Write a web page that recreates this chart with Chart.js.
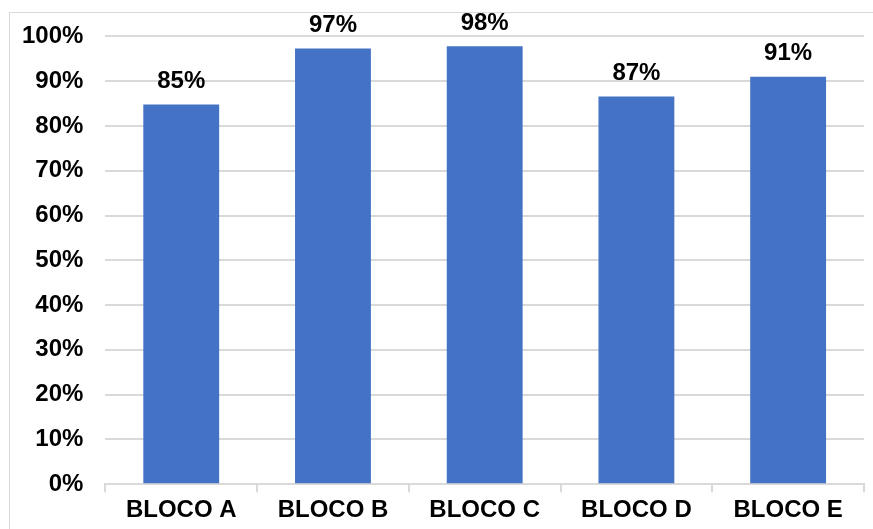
<!DOCTYPE html>
<html>
<head>
<meta charset="utf-8">
<script src="https://cdn.jsdelivr.net/npm/chart.js@4"></script>
<style>
  html, body { margin: 0; padding: 0; background: #fff; overflow: hidden; }
  #wrap { position: relative; width: 873px; height: 529px; }
  #frame { position: absolute; left: 9px; top: 12px; width: 900px; height: 600px; border: 1px solid #d9d9d9; }
  canvas { position: absolute; left: 0; top: 0; }
</style>
</head>
<body>
<div id="wrap">
  <div id="frame"></div>
  <canvas id="chart" width="873" height="529"></canvas>
</div>
<script>
let categories = ["BLOCO A", "BLOCO B", "BLOCO C", "BLOCO D", "BLOCO E"];
let values = [84.8, 97.3, 97.8, 86.6, 91.0];
let barColor = "#4472C4";
let font = "'Liberation Sans', Arial, sans-serif";

// value labels above each bar
let barLabels = {
  id: 'barLabels',
  afterDatasetsDraw(chart) {
    let ctx = chart.ctx;
    let meta = chart.getDatasetMeta(0);
    ctx.save();
    ctx.font = "bold 24px " + font;
    ctx.fillStyle = "#000";
    ctx.textAlign = "center";
    ctx.textBaseline = "bottom";
    meta.data.forEach((bar, i) => {
      ctx.fillText(Math.round(values[i]) + "%", bar.x, bar.y - 11);
    });
    ctx.restore();
  }
};

new Chart(document.getElementById('chart').getContext('2d'), {
  type: 'bar',
  data: {
    labels: categories,
    datasets: [{
      data: values,
      backgroundColor: barColor,
      barPercentage: 0.5,
      categoryPercentage: 1.0,
    }],
  },
  options: {
    responsive: false,
    animation: false,
    layout: { padding: { top: 25, right: 9, left: 0, bottom: 0 } },
    plugins: { legend: { display: false }, tooltip: { enabled: false } },
    scales: {
      x: {
        grid: { display: true, drawOnChartArea: false, drawTicks: true, tickLength: 8, color: "#d9d9d9", lineWidth: 2, offset: true },
        border: { color: "#d9d9d9", width: 2 },
        ticks: { color: "#000", font: { family: font, size: 24, weight: "bold" }, padding: 4 },
      },
      y: {
        min: 0,
        max: 100,
        grid: { color: "#d9d9d9", lineWidth: 2, drawTicks: false },
        border: { display: false },
        ticks: {
          stepSize: 10,
          color: "#000",
          padding: 22,
          font: { family: font, size: 24, weight: "bold" },
          callback: (v) => v + "%",
        },
      },
    },
  },
  plugins: [barLabels],
});
</script>
</body>
</html>
